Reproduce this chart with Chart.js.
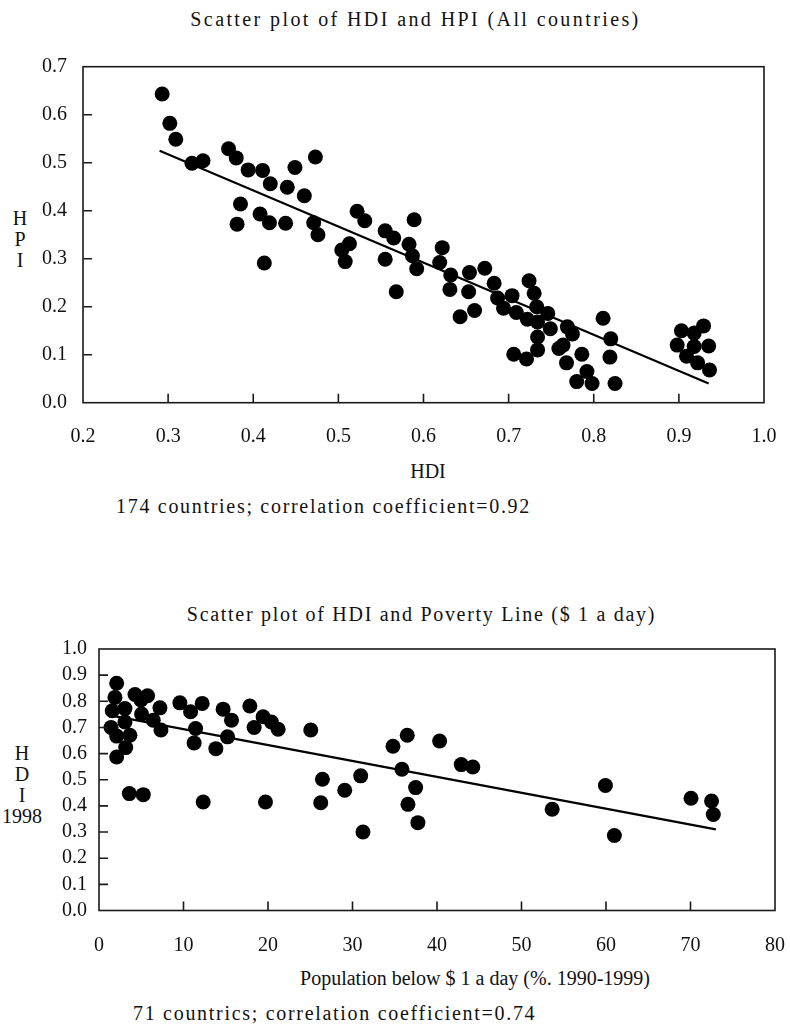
<!DOCTYPE html>
<html>
<head>
<meta charset="utf-8">
<script src="https://cdn.jsdelivr.net/npm/chart.js@4.4.1/dist/chart.umd.min.js"></script>
<style>
  html, body { margin: 0; padding: 0; background: #fff; }
  body { width: 790px; height: 1032px; position: relative; overflow: hidden;
         font-family: "Liberation Serif", "DejaVu Serif", serif; color: #111; }
  .txt { position: absolute; white-space: nowrap; font-size: 20px; line-height: 24px; }
  .stack { position: absolute; text-align: center; font-size: 20px; line-height: 21px; width: 44px; }
  canvas { position: absolute; left: 0; }
</style>
</head>
<body>
<div class="txt" id="title1" style="left:0;width:831px;text-align:center;top:7px;letter-spacing:2.4px;">Scatter plot of HDI and HPI (All countries)</div>
<div class="stack" style="left:-2px;top:208px;">H<br>P<br>I</div>
<div class="txt" style="left:0;width:856px;text-align:center;top:459px;">HDI</div>
<div class="txt" style="left:116px;top:494px;letter-spacing:1.7px;">174 countries; correlation coefficient=0.92</div>

<div class="txt" id="title2" style="left:0;width:843px;text-align:center;top:602px;letter-spacing:1.7px;">Scatter plot of HDI and Poverty Line ($ 1 a day)</div>
<div class="stack" style="left:0;top:743px;">H<br>D<br>I<br>1998</div>
<div class="txt" style="left:0;width:950px;text-align:center;top:966px;">Population below $ 1 a day (%. 1990-1999)</div>
<div class="txt" style="left:133px;top:1001px;letter-spacing:1.7px;">71 countrics; correlation coefficient=0.74</div>

<canvas id="hpiChart" width="790" height="540" style="top:0;"></canvas>
<canvas id="povChart" width="790" height="492" style="top:540px;"></canvas>

<script>
// --- data: HDI vs HPI (all countries) ---
const hdiAll = [0.293,0.302,0.309,0.328,0.341,0.371,0.380,0.394,0.411,0.420,
    0.440,0.449,0.473,0.460,0.385,0.408,0.419,0.438,0.381,0.471,
    0.476,0.413,0.522,0.531,0.513,0.504,0.508,0.589,0.555,0.565,
    0.583,0.587,0.592,0.555,0.568,0.622,0.619,0.632,0.631,0.654,
    0.672,0.653,0.683,0.660,0.643,0.687,0.704,0.694,0.709,0.724,
    0.730,0.733,0.746,0.722,0.734,0.706,0.721,0.734,0.734,0.749,
    0.769,0.775,0.764,0.768,0.759,0.786,0.792,0.780,0.798,0.811,
    0.820,0.819,0.825,0.903,0.918,0.929,0.898,0.918,0.935,0.909,0.922,0.936];
const hpiAll = [0.643,0.582,0.549,0.499,0.504,0.529,0.510,0.485,0.484,0.456,
    0.449,0.490,0.512,0.431,0.414,0.393,0.375,0.374,0.372,0.375,
    0.350,0.291,0.399,0.379,0.331,0.318,0.294,0.381,0.358,0.343,
    0.330,0.306,0.279,0.299,0.231,0.323,0.292,0.266,0.236,0.271,
    0.280,0.231,0.249,0.192,0.179,0.218,0.223,0.197,0.188,0.254,
    0.228,0.200,0.186,0.174,0.168,0.101,0.091,0.137,0.110,0.154,
    0.158,0.143,0.120,0.083,0.113,0.101,0.065,0.044,0.040,0.176,
    0.133,0.095,0.040,0.150,0.145,0.160,0.120,0.117,0.118,0.097,0.083,0.068];
const fitHpiX = [0.29, 0.935];
const fitHpiY = [0.525, 0.040];
const hdiTicks = [0.2, 1.0, 0.1];   // min, max, step
const hpiTicks = [0.0, 0.7, 0.1];

// --- data: HDI 1998 vs population below $1 a day ---
const povertyPct = [2.09,1.89,1.57,1.42,2.09,2.09,3.07,3.07,3.66,3.16,
    4.26,4.96,5.75,5.04,6.42,7.21,7.33,3.59,5.24,9.57,
    10.84,12.21,11.43,11.26,12.33,13.83,14.69,15.68,15.21,17.85,
    18.36,19.42,19.70,20.41,21.2,25.06,26.44,26.24,29.08,30.97,
    31.24,34.79,36.48,35.85,37.47,36.56,37.74,40.31,42.87,44.24,
    53.63,59.93,60.99,70.06,72.49,72.70];
const hdi1998 = [0.869,0.815,0.764,0.700,0.667,0.587,0.772,0.721,0.670,0.623,
    0.826,0.805,0.821,0.751,0.728,0.775,0.690,0.447,0.443,0.794,
    0.760,0.792,0.696,0.641,0.415,0.619,0.770,0.728,0.664,0.782,
    0.700,0.741,0.415,0.721,0.693,0.690,0.502,0.412,0.460,0.515,
    0.300,0.628,0.670,0.540,0.470,0.406,0.336,0.648,0.558,0.549,
    0.387,0.478,0.287,0.429,0.419,0.367];
const fitPovX = [1.5, 73.0];
const fitPovY = [0.745, 0.310];
const povTicks = [0, 80, 10];
const hdi98Ticks = [0.0, 1.0, 0.1];

const FONT = { family: "'Liberation Serif', 'DejaVu Serif', serif", size: 20 };

// box around the plot + short tick marks pointing inward
const framePlugin = {
    id: 'frame',
    afterDatasetsDraw(chart) {
        const { ctx, chartArea: a, scales } = chart;
        ctx.save();
        ctx.strokeStyle = '#1a1a1a';
        ctx.lineWidth = 1.6;
        ctx.strokeRect(a.left, a.top, a.right - a.left, a.bottom - a.top);
        ctx.beginPath();
        const xs = scales.x, ys = scales.y;
        xs.ticks.forEach(t => {
            if (t.value <= xs.min || t.value >= xs.max) return;
            const px = xs.getPixelForValue(t.value);
            ctx.moveTo(px, a.bottom); ctx.lineTo(px, a.bottom - 9);
        });
        ys.ticks.forEach(t => {
            if (t.value <= ys.min || t.value >= ys.max) return;
            const py = ys.getPixelForValue(t.value);
            ctx.moveTo(a.left, py); ctx.lineTo(a.left + 9, py);
        });
        ctx.stroke();
        ctx.restore();
    }
};

function makeChart(id, xs, ys, fitX, fitY, xt, yt, box) {
    const pts = xs.map((v, i) => ({ x: v, y: ys[i] }));
    const fit = fitX.map((v, i) => ({ x: v, y: fitY[i] }));
    return new Chart(document.getElementById(id), {
        type: 'scatter',
        data: {
            datasets: [
                { data: pts, backgroundColor: '#000', borderWidth: 0, pointRadius: 7.5, order: 1 },
                { type: 'line', data: fit, borderColor: '#000', borderWidth: 2.2, pointRadius: 0, order: 2 }
            ]
        },
        options: {
            responsive: false,
            animation: false,
            events: [],
            layout: { padding: { top: box.top, right: box.right, left: 0, bottom: 0 } },
            plugins: { legend: { display: false }, tooltip: { enabled: false } },
            scales: {
                x: {
                    type: 'linear', min: xt[0], max: xt[1],
                    grid: { display: false, drawTicks: false }, border: { display: false },
                    ticks: { stepSize: xt[2], autoSkip: false, maxRotation: 0, padding: box.xPad,
                             color: '#111', font: FONT,
                             callback: v => xt[2] < 1 ? v.toFixed(1) : String(v) },
                    // fixed axis box; no extra room reserved for the end labels
                    afterFit: s => { s.height = box.xHeight; s.paddingLeft = 0; s.paddingRight = 0; }
                },
                y: {
                    type: 'linear', min: yt[0], max: yt[1],
                    grid: { display: false, drawTicks: false }, border: { display: false },
                    ticks: { stepSize: yt[2], autoSkip: false, padding: box.yPad,
                             color: '#111', font: FONT,
                             callback: v => v.toFixed(1) },
                    afterFit: s => { s.width = box.left; }
                }
            }
        },
        plugins: [framePlugin]
    });
}

makeChart('hpiChart', hdiAll, hpiAll, fitHpiX, fitHpiY, hdiTicks, hpiTicks,
    { top: 66.7, right: 26, left: 83, xHeight: 540 - 402.7, xPad: 22, yPad: 16 });
makeChart('povChart', povertyPct, hdi1998, fitPovX, fitPovY, povTicks, hdi98Ticks,
    { top: 109, right: 15, left: 99, xHeight: 492 - 370.5, xPad: 23, yPad: 12 });
</script>
</body>
</html>
